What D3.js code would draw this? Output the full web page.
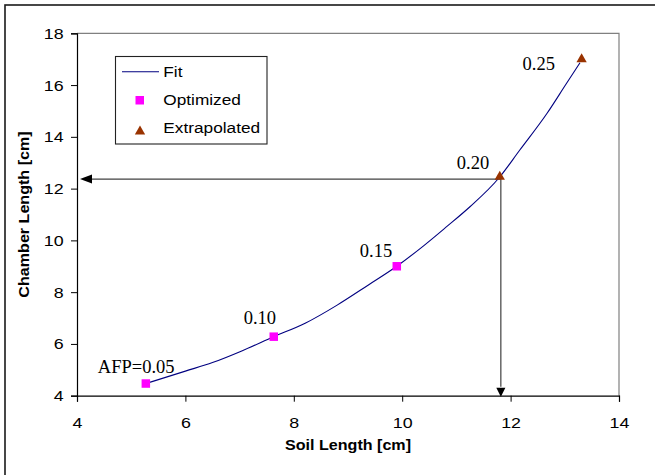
<!DOCTYPE html>
<html>
<head>
<meta charset="utf-8">
<script src="https://cdn.jsdelivr.net/npm/d3@7"></script>
<style>
  html, body { margin: 0; padding: 0; background: #fff; }
  svg { display: block; }
</style>
</head>
<body>
<svg id="chart" width="655" height="475"></svg>
<script>
// ---- data ----
const xTicks = [4, 6, 8, 10, 12, 14];
const yTicks = [4, 6, 8, 10, 12, 14, 16, 18];
const fitSoil    = [5.27, 6.0, 6.5, 7.04, 7.63, 8.21, 8.8, 9.37, 9.90, 10.4, 10.82, 11.25, 11.78, 12.17, 12.67, 13.03, 13.28];
const fitChamber = [4.47, 4.95, 5.28, 5.73, 6.28, 6.80, 7.5, 8.27, 9.00, 9.80, 10.53, 11.30, 12.40, 13.49, 14.90, 16.06, 16.86];
const optSoil    = [5.27, 7.63, 9.90];
const optChamber = [4.47, 6.28, 9.00];
const extSoil    = [11.80, 13.31];
const extChamber = [12.46, 17.0];
const pointLabels = ["AFP=0.05", "0.10", "0.15", "0.20", "0.25"];
const guideSoil = 11.82;
const guideChamber = 12.37;
const legendLabels = ["Fit", "Optimized", "Extrapolated"];
const xTitle = "Soil Length [cm]";
const yTitle = "Chamber Length [cm]";

// ---- layout / style ----
const labelOffsets = [[-48, -11], [-30, -13], [-37, -9], [-43, -8], [-59, 11]];
const SX = 1.15; // horizontal stretch of Arial text
const svg = d3.select("#chart");
const x = d3.scaleLinear().domain([4, 14]).range([77, 619]);
const y = d3.scaleLinear().domain([4, 18]).range([395.7, 33.3]);

// outer frame (only top/left visible)
svg.append("rect").attr("x", 5).attr("y", 5).attr("width", 700).attr("height", 520)
  .attr("fill", "none").attr("stroke", "#1a1a1a").attr("stroke-width", 1.6);

// plot area frame (gray top/right)
svg.append("path")
  .attr("d", `M${x(4)},${y(18)}H${x(14)}V${y(4)}`)
  .attr("fill", "none").attr("stroke", "#808080").attr("stroke-width", 1.2);

// axes
const gx = svg.append("g").attr("transform", `translate(0,${y(4)})`)
  .call(d3.axisBottom(x).tickValues(xTicks).tickFormat(d3.format("d")).tickSizeOuter(0).tickSize(6).tickPadding(15));
const gy = svg.append("g").attr("transform", `translate(${x(4)},0)`)
  .call(d3.axisLeft(y).tickValues(yTicks).tickFormat(d3.format("d")).tickSizeOuter(0).tickSize(6).tickPadding(5.6));
[gx, gy].forEach(g => {
  g.select(".domain").attr("stroke", "#000").attr("stroke-width", 1.2);
  g.selectAll(".tick line").attr("stroke", "#000").attr("stroke-width", 1);
  g.selectAll(".tick text")
    .attr("font-family", "'Liberation Sans', Arial, sans-serif")
    .attr("font-size", 15.5).attr("fill", "#000")
    .attr("transform", `scale(${SX},1)`);
});
gx.selectAll(".tick text").attr("x", 0);

function stext(parent, px, py, str, o = {}) {
  return parent.append("text")
    .attr("transform", `translate(${px},${py}) ${o.rotate ? "rotate(" + o.rotate + ")" : ""} scale(${SX},1)`)
    .attr("text-anchor", o.anchor || "start")
    .attr("font-family", "'Liberation Sans', Arial, sans-serif")
    .attr("font-size", o.size || 15)
    .attr("font-weight", o.bold ? "bold" : "normal")
    .attr("fill", "#000")
    .text(str);
}

// axis titles
stext(svg, (x(4) + x(14)) / 2, 450, xTitle, { anchor: "middle", size: 14, bold: true });
stext(svg, 29, (y(4) + y(18)) / 2, yTitle, { anchor: "middle", size: 14, bold: true, rotate: -90 });

// guide arrows
const guideColor = "#404040";
svg.append("line")
  .attr("x1", x(guideSoil)).attr("y1", y(guideChamber))
  .attr("x2", x(4) + 14).attr("y2", y(guideChamber))
  .attr("stroke", guideColor).attr("stroke-width", 1.2);
svg.append("path")
  .attr("d", `M${x(4) + 3},${y(guideChamber)} l12,-4.5 l0,9 Z`)
  .attr("fill", "#000");
svg.append("line")
  .attr("x1", x(guideSoil)).attr("y1", y(guideChamber))
  .attr("x2", x(guideSoil)).attr("y2", y(4) - 9)
  .attr("stroke", guideColor).attr("stroke-width", 1.2);
svg.append("path")
  .attr("d", `M${x(guideSoil)},${y(4) + 1} l-4.5,-9 l9,0 Z`)
  .attr("fill", "#000");

// fit line
const fitData = fitSoil.map((s, i) => [s, fitChamber[i]]);
svg.append("path")
  .datum(fitData)
  .attr("d", d3.line().x(d => x(d[0])).y(d => y(d[1])).curve(d3.curveMonotoneX))
  .attr("fill", "none").attr("stroke", "#000080").attr("stroke-width", 1.1);

// optimized squares
const sq = 8.5;
svg.selectAll("rect.opt").data(optSoil.map((s, i) => [s, optChamber[i]])).enter()
  .append("rect").attr("class", "opt")
  .attr("x", d => x(d[0]) - sq / 2).attr("y", d => y(d[1]) - sq / 2)
  .attr("width", sq).attr("height", sq).attr("fill", "#FF00FF");

// extrapolated triangles
const tri = d3.symbol().type(d3.symbolTriangle).size(46);
svg.selectAll("path.ext").data(extSoil.map((s, i) => [s, extChamber[i]])).enter()
  .append("path").attr("class", "ext")
  .attr("transform", d => `translate(${x(d[0])},${y(d[1])})`)
  .attr("d", tri).attr("fill", "#993300");

// point labels
const allPts = optSoil.map((s, i) => [s, optChamber[i]]).concat(extSoil.map((s, i) => [s, extChamber[i]]));
svg.selectAll("text.plabel").data(pointLabels).enter()
  .append("text").attr("class", "plabel")
  .attr("x", (d, i) => x(allPts[i][0]) + labelOffsets[i][0])
  .attr("y", (d, i) => y(allPts[i][1]) + labelOffsets[i][1])
  .attr("font-family", "'Liberation Serif', 'Times New Roman', serif")
  .attr("font-size", 18.5).attr("fill", "#000")
  .text(d => d);

// legend
const lg = svg.append("g");
lg.append("rect").attr("x", 115.5).attr("y", 56.5).attr("width", 151.5).attr("height", 87.5)
  .attr("fill", "#fff").attr("stroke", "#222").attr("stroke-width", 1.1);
lg.append("line").attr("x1", 122).attr("x2", 159).attr("y1", 71.7).attr("y2", 71.7)
  .attr("stroke", "#000080").attr("stroke-width", 1.1);
lg.append("rect").attr("x", 135.5).attr("y", 96).attr("width", sq).attr("height", sq).attr("fill", "#FF00FF");
lg.append("path").attr("transform", "translate(140,131.5)").attr("d", tri).attr("fill", "#993300");
legendLabels.forEach((t, i) => stext(lg, 163.3, 76.5 + i * 28.2, t, { size: 15 }));
</script>
</body>
</html>
